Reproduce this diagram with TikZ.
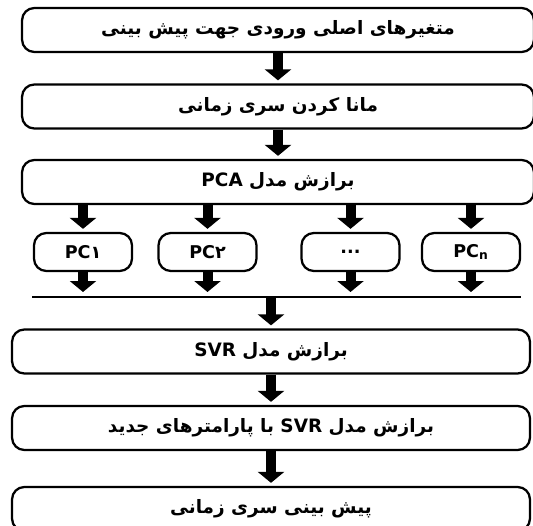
\documentclass[tikz,border=0pt]{standalone}
\usepackage{fontspec}
\usepackage{tikz}
\usetikzlibrary{arrows.meta}
\TeXXeTstate=1
\newfontfamily\arabicfont[Script=Arabic]{DejaVu Sans}

\tikzset{
  stage/.style={draw, line width=1.3pt, rounded corners=7pt, inner sep=0pt,
                minimum width=#1, minimum height=0.88cm,
                font=\arabicfont\bfseries\fontsize{10.5}{12}\selectfont},
  pcbox/.style={draw, line width=1.3pt, rounded corners=7pt, inner sep=0pt,
                minimum width=1.96cm, minimum height=0.76cm,
                font=\arabicfont\bfseries\fontsize{10}{12}\selectfont},
  bigarrow/.style={line width=0.2cm, -{Triangle[width=0.52cm,length=0.22cm]},
                   shorten >=0.06cm},
}

\begin{document}
\begin{tikzpicture}[x=0.02cm, y=-0.02cm]
\useasboundingbox (0,0) rectangle (533,526);

\node[stage=10.24cm] (inputs) at (278,30)
  {\beginR متغیرهای اصلی ورودی جهت پیش بینی\endR};
\node[stage=10.24cm] (stationary) at (278,106.5)
  {\beginR مانا کردن سری زمانی\endR};
\node[stage=10.24cm] (pca) at (278,182)
  {\beginR برازش مدل \beginL PCA\endL\endR};

\node[pcbox] (pc1) at (83,252) {PC۱};
\node[pcbox] (pc2) at (207.5,252) {PC۲};
\node[pcbox] (pcdots) at (350.5,252) {...};
\node[pcbox] (pcn) at (471,252) {PC\textsubscript{n}};

\coordinate (busL) at (32,297);
\coordinate (busR) at (521,297);
\draw[line width=0.6pt] (busL) -- (busR);

\node[stage=10.36cm] (svr) at (271,351.5)
  {\beginR برازش مدل \beginL SVR\endL\endR};
\node[stage=10.36cm] (svrnew) at (271,428)
  {\beginR برازش مدل \beginL SVR\endL{} با پارامترهای جدید\endR};
\node[stage=10.36cm] (forecast) at (271,509)
  {\beginR پیش بینی سری زمانی\endR};

\draw[bigarrow] (inputs) -- (stationary);
\draw[bigarrow] (stationary) -- (pca);
\foreach \p in {pc1,pc2,pcdots,pcn}{
  \draw[bigarrow] (pca.south -| \p) -- (\p.north);
  \draw[bigarrow, shorten >=0.1cm] (\p.south) -- (\p.south |- busL);
}
\draw[bigarrow] (busL -| svr.north) -- (svr.north);
\draw[bigarrow] (svr) -- (svrnew);
\draw[bigarrow] (svrnew) -- (forecast);
\end{tikzpicture}
\end{document}
